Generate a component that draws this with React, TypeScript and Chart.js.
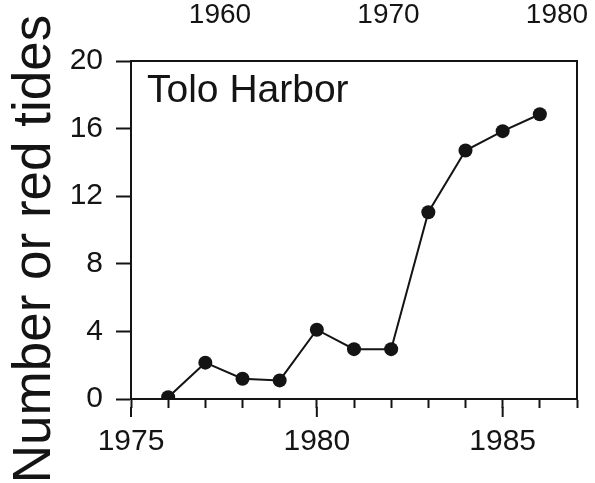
import React, { useEffect, useRef } from "react";
import { Chart, registerables } from "chart.js";

Chart.register(...registerables);

const years = [1976, 1977, 1978, 1979, 1980, 1981, 1982, 1983, 1984, 1985, 1986];
const redTides = [0.1, 2.15, 1.2, 1.1, 4.1, 2.95, 2.95, 11.05, 14.7, 15.85, 16.85];
const bottomTickLabels = [1975, 1980, 1985];
const topTickLabels = [1960, 1970, 1980];
const yTickLabels = [0, 4, 8, 12, 16, 20];
const panelLabel = "Tolo Harbor";
const yTitle = "Number or red tides";

const FONT = '"Liberation Sans", Arial, sans-serif';
const INK = "#141414";

const decorPlugin = {
  id: "decor",
  afterDraw(chart: any) {
    const { ctx, chartArea, scales } = chart;
    ctx.save();
    // longer major ticks on the bottom axis
    const xs = scales.x;
    ctx.strokeStyle = INK;
    ctx.lineWidth = 2;
    bottomTickLabels.forEach((v) => {
      const px = xs.getPixelForValue(v);
      ctx.beginPath();
      ctx.moveTo(px, chartArea.bottom + 8);
      ctx.lineTo(px, chartArea.bottom + 18);
      ctx.stroke();
    });
    // panel label
    ctx.fillStyle = INK;
    ctx.font = `39px ${FONT}`;
    ctx.textAlign = "left";
    ctx.textBaseline = "alphabetic";
    ctx.fillText(panelLabel, chartArea.left + 16, chartArea.top + 41);
    // y title
    ctx.translate(50, (chartArea.top + chartArea.bottom) / 2 + 19);
    ctx.rotate(-Math.PI / 2);
    ctx.font = `53px ${FONT}`;
    ctx.textAlign = "center";
    ctx.fillText(yTitle, 0, 0);
    ctx.restore();
  },
};

const fixSize = (prop: "width" | "height", size: number) => (s: any) => {
  s[prop] = size;
  s.paddingLeft = 0;
  s.paddingRight = 0;
  s.paddingTop = 0;
  s.paddingBottom = 0;
};

export default function App() {
  const ref = useRef<HTMLCanvasElement>(null);

  useEffect(() => {
    if (!ref.current) return;
    const tickFont = { family: FONT, size: 30 };
    const chart = new Chart(ref.current, {
      type: "line",
      data: {
        datasets: [
          {
            data: years.map((y, i) => ({ x: y, y: redTides[i] })),
            borderColor: INK,
            borderWidth: 2,
            pointRadius: 7,
            pointBackgroundColor: INK,
            pointBorderWidth: 0,
            tension: 0,
          },
        ],
      },
      options: {
        responsive: false,
        animation: false,
        layout: { padding: 0 },
        plugins: { legend: { display: false }, tooltip: { enabled: false } },
        scales: {
          x: {
            type: "linear",
            position: "bottom",
            min: 1975,
            max: 1987,
            afterFit: fixSize("height", 84),
            ticks: {
              stepSize: 1,
              autoSkip: false,
              maxRotation: 0,
              padding: 16,
              color: INK,
              font: tickFont,
              callback: (v: any) => (bottomTickLabels.includes(Number(v)) ? String(v) : ""),
            },
            grid: {
              drawOnChartArea: false,
              drawTicks: true,
              tickLength: 9,
              tickColor: INK,
              tickWidth: 2,
            },
            border: { display: true, color: INK, width: 2 },
          },
          xTop: {
            type: "linear",
            position: "top",
            min: 1954.72,
            max: 1981.19,
            afterFit: fixSize("height", 61),
            ticks: {
              stepSize: 10,
              includeBounds: false,
              autoSkip: false,
              maxRotation: 0,
              padding: 29,
              color: INK,
              font: { family: FONT, size: 28 },
              callback: (v: any) => (topTickLabels.includes(Number(v)) ? String(v) : ""),
            },
            grid: { display: false, drawTicks: false },
            border: { display: true, color: INK, width: 2 },
          },
          y: {
            type: "linear",
            position: "left",
            min: 0,
            max: 20,
            afterFit: fixSize("width", 131),
            ticks: {
              stepSize: 4,
              padding: 13,
              color: INK,
              font: tickFont,
              callback: (v: any) => (yTickLabels.includes(Number(v)) ? String(v) : ""),
            },
            grid: {
              drawOnChartArea: false,
              drawTicks: true,
              tickLength: 15,
              tickColor: INK,
              tickWidth: 2,
            },
            border: { display: true, color: INK, width: 2 },
          },
          yRight: {
            type: "linear",
            position: "right",
            min: 0,
            max: 20,
            afterFit: fixSize("width", 18),
            ticks: { display: false },
            grid: { display: false, drawTicks: false },
            border: { display: true, color: INK, width: 2 },
          },
        },
      },
      plugins: [decorPlugin],
    });
    return () => chart.destroy();
  }, []);

  return (
    <div style={{ position: "fixed", left: 0, top: 0, width: 595, height: 483, background: "#fff" }}>
      <canvas ref={ref} width={595} height={483} style={{ display: "block" }} />
    </div>
  );
}
